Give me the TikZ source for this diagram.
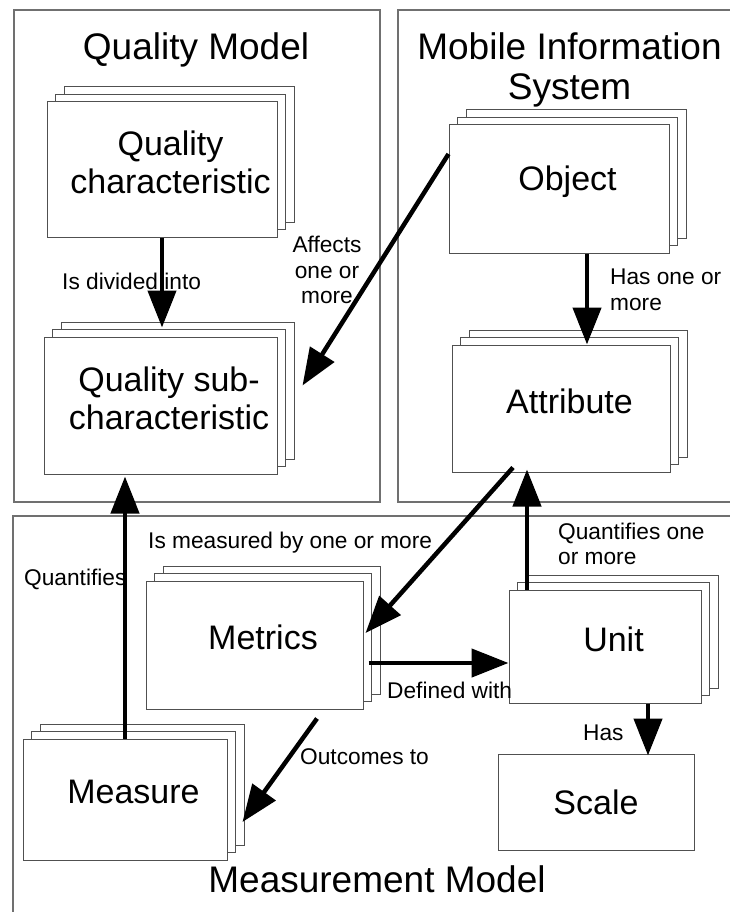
\documentclass[tikz,border=0pt]{standalone}
\usepackage{fontspec}
\setmainfont{Liberation Sans}
\usetikzlibrary{arrows.meta,shadows}

\definecolor{frameline}{HTML}{707070}
\definecolor{boxline}{HTML}{505050}

\begin{document}
\begin{tikzpicture}[x=1pt,y=-1pt,
  frame/.style={draw=frameline, line width=1.1pt},
  card/.style={draw=boxline, fill=white, line width=1pt, inner sep=0pt},
  stack/.style={card,
    copy shadow={shadow xshift=17pt, shadow yshift=15pt, draw=boxline, fill=white, line width=1pt},
    copy shadow={shadow xshift=8.5pt, shadow yshift=7.5pt, draw=boxline, fill=white, line width=1pt}},
  boxtext/.style={font=\fontsize{34}{38}\selectfont, align=center, inner sep=0pt},
  title/.style={font=\fontsize{37}{40}\selectfont, align=center, inner sep=0pt},
  lbl/.style={font=\fontsize{22.7}{25.5}\selectfont, inner sep=0pt},
  link/.style={line width=4.5pt, -{Triangle[length=37pt,width=28pt]}},
]
\useasboundingbox (0,0) rectangle (730,912);

% the three model areas
\draw[frame] (14,10) rectangle (380,502);
\draw[frame] (731,10) -- (398,10) -- (398,502) -- (731,502);
\draw[frame] (731,516) -- (13,516) -- (13,913);

\node[title, anchor=base] (qm) at (196,60) {Quality Model};
\node[title] (mis) at (569.5,70) {Mobile Information\\System};
\node[title, anchor=base] (mm) at (377,892) {Measurement Model};

% stacked boxes
\node[stack, minimum width=230pt, minimum height=135pt] (qc) at (162,169.5) {};
\node[boxtext] (qc-t) at ([xshift=8.5pt,yshift=7.5pt]qc.center) {Quality\\characteristic};

\node[stack, minimum width=233pt, minimum height=137pt] (qsc) at (160.5,405.5) {};
\node[boxtext] (qsc-t) at ([xshift=8.5pt,yshift=7.5pt]qsc.center) {Quality sub-\\characteristic};

\node[stack, minimum width=220pt, minimum height=128pt] (obj) at (559,189) {};
\node[boxtext] (obj-t) at ([xshift=8.5pt,yshift=7.5pt]obj.center) {Object};

\node[stack, minimum width=218pt, minimum height=127pt] (att) at (561,408.5) {};
\node[boxtext] (att-t) at ([xshift=8.5pt,yshift=7.5pt]att.center) {Attribute};

\node[stack, minimum width=217pt, minimum height=128pt] (met) at (254.5,645) {};
\node[boxtext] (met-t) at ([xshift=8.5pt,yshift=7.5pt]met.center) {Metrics};

\node[stack, minimum width=204pt, minimum height=121pt] (meas) at (125,799.5) {};
\node[boxtext] (meas-t) at ([xshift=8.5pt,yshift=7.5pt]meas.center) {Measure};

\node[stack, minimum width=192pt, minimum height=113pt] (unit) at (605,646.5) {};
\node[boxtext] (unit-t) at ([xshift=8.5pt,yshift=7.5pt]unit.center) {Unit};

\node[card, minimum width=196pt, minimum height=96pt] (scale) at (596,802) {};
\node[boxtext] (scale-t) at (scale.center) {Scale};

% connector labels
\node[lbl, anchor=west] (l-div) at (62,281) {Is divided into};
\node[lbl, align=center] (l-aff) at (327,270) {Affects\\one or\\more};
\node[lbl, align=left, anchor=west] (l-has1) at (610,290) {Has one or\\more};
\node[lbl, anchor=west] (l-meas) at (148,543) {Is measured by one or more};
\node[lbl, anchor=west] (l-quant) at (24,579) {Quantifies};
\node[lbl, align=left, anchor=west] (l-quant2) at (558,544) {Quantifies one\\or more};
\node[lbl, anchor=west] (l-def) at (387,690) {Defined with};
\node[lbl, anchor=west] (l-out) at (300,757) {Outcomes to};
\node[lbl, anchor=west] (l-has2) at (583,733) {Has};

% connectors
\draw[link] (qc.south) -- ([yshift=9pt]qc.south |- qsc.north);
\draw[link] ([yshift=35pt]obj.west) -- ([xshift=25pt,yshift=20pt]qsc.east);
\draw[link] ([xshift=28pt]obj.south) -- ([xshift=28pt]obj.south |- att.north);
\draw[link] ([xshift=-48pt,yshift=5pt]att.south) -- ([xshift=2pt,yshift=12pt]met.east);
\draw[link] ([xshift=-78pt]unit.north) -- ([xshift=-78pt,yshift=3pt]unit.north |- att.south);
\draw[link] (meas.north) -- ([yshift=-2pt]meas.north |- qsc.south);
\coordinate (dw) at ([xshift=5pt,yshift=-18pt]met.east);
\draw[link] (dw) -- (dw -| unit.west);
\draw[link] ([xshift=62.5pt,yshift=-9pt]met.south) -- ([xshift=15pt,yshift=-22.5pt]meas.east);
\draw[link] ([xshift=43pt]unit.south) -- ([xshift=43pt,yshift=-2pt]unit.south |- scale.north);
\end{tikzpicture}
\end{document}
